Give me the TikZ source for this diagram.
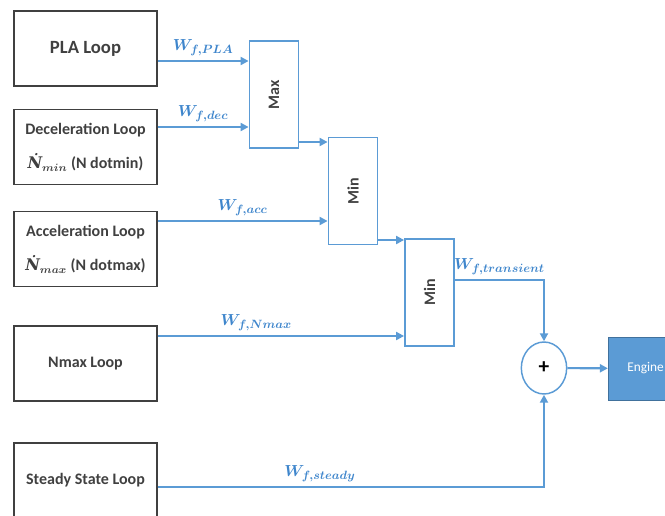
\documentclass[tikz,border=0pt]{standalone}
\usepackage{fontspec}
\setmainfont{Carlito}
\newfontfamily\dotfont{DejaVu Serif}
\usetikzlibrary{arrows.meta,shapes.geometric}
\definecolor{flowblue}{HTML}{5B9BD5}
\definecolor{sigblue}{HTML}{3F86CC}
\definecolor{boxgray}{HTML}{404040}
\definecolor{engblue}{HTML}{41719C}
\newcommand{\ndot}[1]{{\dotfont\itshape Ṅ}{\boldmath$_{#1}$}}

\begin{document}
\begin{tikzpicture}
	[x=0.75pt, y=-0.75pt,
	 loopbox/.style={draw=boxgray, line width=1.1pt, minimum width=107.25pt, minimum height=56.25pt, align=center, text=boxgray, font=\bfseries\fontsize{12}{14}\selectfont},
	 selbox/.style={draw=flowblue, line width=1.1pt, minimum width=37pt, minimum height=80pt, text=boxgray, font=\bfseries\fontsize{12}{14}\selectfont},
	 flow/.style={draw=flowblue, line width=1.6pt, -{Triangle[length=6pt,width=6pt]}},
	 sig/.style={text=sigblue, font=\boldmath\fontsize{12.5}{15}\selectfont}]
	\clip (0,0) rectangle (665,515);
	% loops on the left
	\node[loopbox] (pla) at (85.5,48.5) {\fontsize{14}{16}\selectfont PLA Loop};
	\node[loopbox] (dec) at (85.5,147) {Deceleration Loop\\[12pt]\ndot{min} (N dotmin)};
	\node[loopbox] (acc) at (85.5,249) {Acceleration Loop\\[12pt]\ndot{max} (N dotmax)};
	\node[loopbox] (nmax) at (85.5,363.5) {Nmax Loop};
	\node[loopbox] (steady) at (85.5,480.5) {Steady State Loop};
	% selectors
	\node[selbox] (max) at (274,94.5) {\rotatebox{90}{Max}};
	\node[selbox] (minA) at (353,191) {\rotatebox{90}{Min}};
	\node[selbox] (minB) at (429.5,292.5) {\rotatebox{90}{Min}};
	\node[draw=flowblue, line width=1.1pt, ellipse, minimum width=34pt, minimum height=39pt, font=\bfseries\fontsize{16}{18}\selectfont] (sum) at (544,368) {+};
	\node[draw=engblue, fill=flowblue, minimum width=56pt, minimum height=47pt, text=white, font=\fontsize{10}{12}\selectfont] (engine) at (645.5,368.5) {Engine};
	% signals
	\draw[flow] (pla.east |- 0,61) -- (max.west |- 0,61) node[midway, above, sig] {$W_{f,PLA}$};
	\draw[flow] (dec.east |- 0,127) -- (max.west |- 0,127) node[midway, above, sig] {$W_{f,dec}$};
	\draw[flow] (max.east |- 0,142) -- (minA.west |- 0,142);
	\draw[flow] (acc.east |- 0,221) -- (minA.west |- 0,221) node[midway, above, sig] {$W_{f,acc}$};
	\draw[flow] (minA.east |- 0,240) -- (minB.west |- 0,240);
	\draw[flow] (nmax.east |- 0,336) -- (minB.west |- 0,336) node[pos=0.4, above, sig] {$W_{f,Nmax}$};
	\draw[flow] (minB.east |- 0,280) -| (sum.north) node[pos=0.25, above, sig] {$W_{f,transient}$};
	\draw[flow] (steady.east |- 0,487) -| (sum.south) node[pos=0.21, above, sig] {$W_{f,steady}$};
	\draw[flow] (sum) -- (engine);
\end{tikzpicture}
\end{document}
